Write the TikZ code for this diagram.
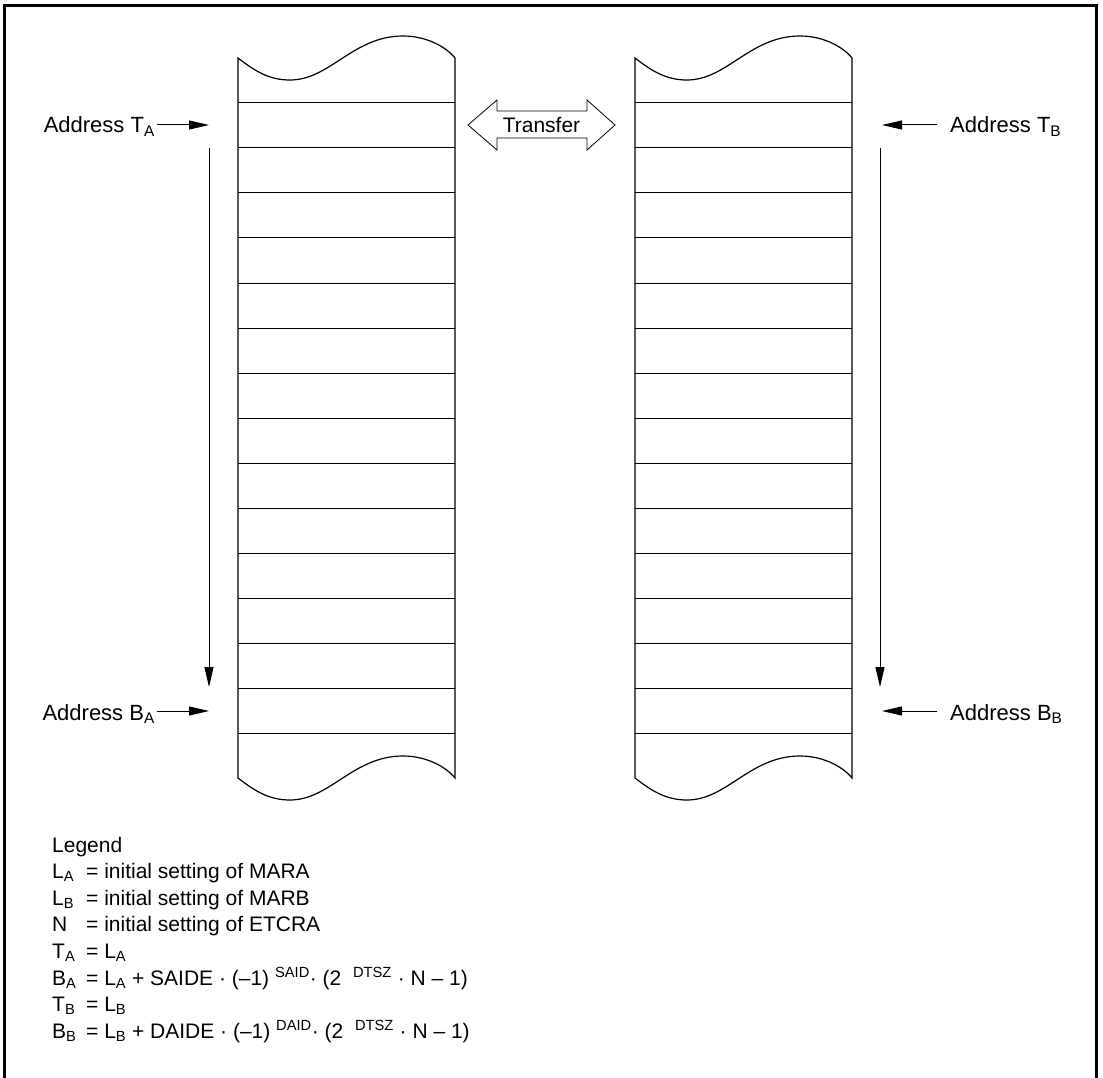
\documentclass[tikz,border=0pt]{standalone}
\usepackage{fontspec}
\setmainfont{Liberation Sans}
\usetikzlibrary{arrows.meta}

\tikzset{
  memline/.style={line width=1.2pt},
  rowline/.style={line width=1pt},
  ptr/.style={line width=1pt, -{Triangle[length=20pt,width=9pt]}},
  addr/.style={font=\fontsize{22}{26}\selectfont, inner sep=0pt},
  legline/.style={font=\fontsize{21}{26}\selectfont, inner sep=0pt, anchor=base west},
}
\newcommand{\legsym}[1]{\makebox[34pt][l]{#1}}

\begin{document}
\begin{tikzpicture}[x=1pt,y=-1pt]
\useasboundingbox (0,0) rectangle (1103,1078);
% frame, open at the bottom
\draw[line width=2.8pt] (4.6,1078) -- (4.6,5.3) -- (1096.4,5.3) -- (1096.4,1078);

% memory columns A and B
\foreach \cx in {238,635} {
  \draw[memline] (\cx,58) .. controls +(18,14) and +(-20,0) .. (\cx+52,80)
     .. controls +(40,0) and +(-50,0) .. (\cx+165,36)
     .. controls +(25,0) and +(-8,-10) .. (\cx+217,58)
     -- (\cx+217,778)
     .. controls +(-8,-10) and +(25,0) .. (\cx+165,756)
     .. controls +(-50,0) and +(40,0) .. (\cx+52,800)
     .. controls +(-20,0) and +(18,14) .. (\cx,778) -- cycle;
  \foreach \ry in {103,148,...,733}
    \draw[rowline] (\cx,\ry) -- (\cx+217,\ry);
}

% address labels
\node[addr, anchor=base east] (adrTA) at (155,133) {Address T\textsubscript{A}};
\node[addr, anchor=base east] (adrBA) at (155,720) {Address B\textsubscript{A}};
\node[addr, anchor=base west] (adrTB) at (950,133) {Address T\textsubscript{B}};
\node[addr, anchor=base west] (adrBB) at (950,720) {Address B\textsubscript{B}};

\coordinate (tipTA) at (209,125);
\coordinate (tipBA) at (209,711);
\coordinate (tipTB) at (882,125);
\coordinate (tipBB) at (882,711);

\draw[ptr, shorten <=2pt] (adrTA.east |- tipTA) -- (tipTA);
\draw[ptr, shorten <=2pt] (adrBA.east |- tipBA) -- (tipBA);
\draw[ptr, shorten <=13pt] (adrTB.west |- tipTB) -- (tipTB);
\draw[ptr, shorten <=13pt] (adrBB.west |- tipBB) -- (tipBB);

% direction of the transfer
\coordinate (runA1) at (209,148);
\coordinate (runA2) at (209,687);
\coordinate (runB1) at (880,148);
\coordinate (runB2) at (880,687);
\draw[ptr] (runA1) -- (runA2);
\draw[ptr] (runB1) -- (runB2);

% transfer double arrow
\node[font=\fontsize{21}{25}\selectfont, inner sep=0pt, anchor=base] (xfer) at (541.5,133) {Transfer};
\begin{scope}[shift={(541.5,125)}]
  \draw[line width=0.8pt] (-73.5,0) -- (-44.5,-25) -- (-44.5,-14) -- (45.5,-14) -- (45.5,-25)
     -- (73.5,0) -- (45.5,25) -- (45.5,13) -- (-44.5,13) -- (-44.5,25) -- cycle;
\end{scope}

% legend
\foreach \txt [count=\i] in {
  {Legend},
  {\legsym{L\textsubscript{A}}= initial setting of MARA},
  {\legsym{L\textsubscript{B}}= initial setting of MARB},
  {\legsym{N}= initial setting of ETCRA},
  {\legsym{T\textsubscript{A}}= L\textsubscript{A}},
  {\legsym{B\textsubscript{A}}= L\textsubscript{A} + SAIDE · (–1) \textsuperscript{SAID}· (2~~\textsuperscript{DTSZ} · N – 1)},
  {\legsym{T\textsubscript{B}}= L\textsubscript{B}},
  {\legsym{B\textsubscript{B}}= L\textsubscript{B} + DAIDE · (–1) \textsuperscript{DAID}· (2~~\textsuperscript{DTSZ} · N – 1)}}
  \node[legline] (leg\i) at (52,852+26.6*\i-26.6) {\txt};
\end{tikzpicture}
\end{document}
